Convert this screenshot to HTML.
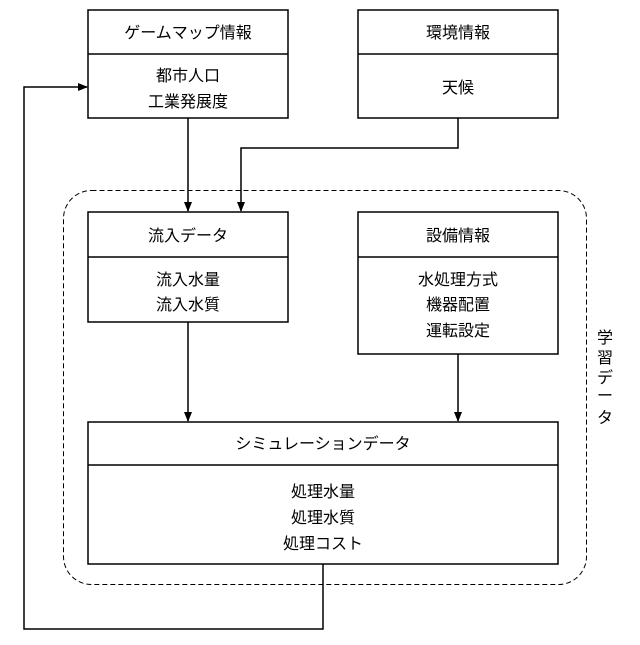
<!DOCTYPE html>
<html><head><meta charset="utf-8"><style>
body{margin:0;background:#fff}
text{font-family:"Liberation Sans","Noto Sans CJK JP",sans-serif;font-size:16px;fill:#000}
</style></head><body>
<svg width="640" height="640" viewBox="0 0 640 640" xmlns="http://www.w3.org/2000/svg">
<defs><marker id="a" markerWidth="10" markerHeight="10" refX="9" refY="5" orient="auto" markerUnits="userSpaceOnUse"><path d="M0,1 L10,5 L0,9 z" fill="#000"/></marker></defs>
<rect x="63.5" y="190.5" width="523" height="394" rx="28" fill="none" stroke="#000" stroke-dasharray="5,3"/>
<g fill="none" stroke="#000" stroke-width="1.5">
<rect x="88" y="10" width="200" height="108"/><line x1="88" y1="54" x2="288" y2="54"/>
<rect x="358" y="10" width="200" height="108"/><line x1="358" y1="54" x2="558" y2="54"/>
<rect x="88" y="212" width="200" height="110"/><line x1="88" y1="257" x2="288" y2="257"/>
<rect x="358" y="212" width="200" height="142"/><line x1="358" y1="257" x2="558" y2="257"/>
<rect x="88" y="422" width="470" height="142"/><line x1="88" y1="465" x2="558" y2="465"/>
<line x1="188" y1="118" x2="188" y2="211" marker-end="url(#a)"/>
<polyline points="458,118 458,148 241,148 241,211" marker-end="url(#a)"/>
<line x1="188" y1="322" x2="188" y2="421" marker-end="url(#a)"/>
<line x1="458" y1="354" x2="458" y2="421" marker-end="url(#a)"/>
<polyline points="323,564 323,629 24,629 24,87 87,87" marker-end="url(#a)"/>
</g>
<g text-anchor="middle">
<text x="188" y="38">ゲームマップ情報</text>
<text x="188" y="81">都市人口</text><text x="188" y="107">工業発展度</text>
<text x="458" y="38">環境情報</text>
<text x="458" y="93">天候</text>
<text x="188" y="241">流入データ</text>
<text x="188" y="285">流入水量</text><text x="188" y="310">流入水質</text>
<text x="458" y="241">設備情報</text>
<text x="458" y="285">水処理方式</text><text x="458" y="310">機器配置</text><text x="458" y="336">運転設定</text>
<text x="323" y="449">シミュレーションデータ</text>
<text x="323" y="497">処理水量</text><text x="323" y="523">処理水質</text><text x="323" y="549">処理コスト</text>
<text x="605" y="343">学</text><text x="605" y="363">習</text><text x="605" y="383">デ</text><text x="605" y="401">ー</text><text x="605" y="423">タ</text>
</g>
</svg>
</body></html>
